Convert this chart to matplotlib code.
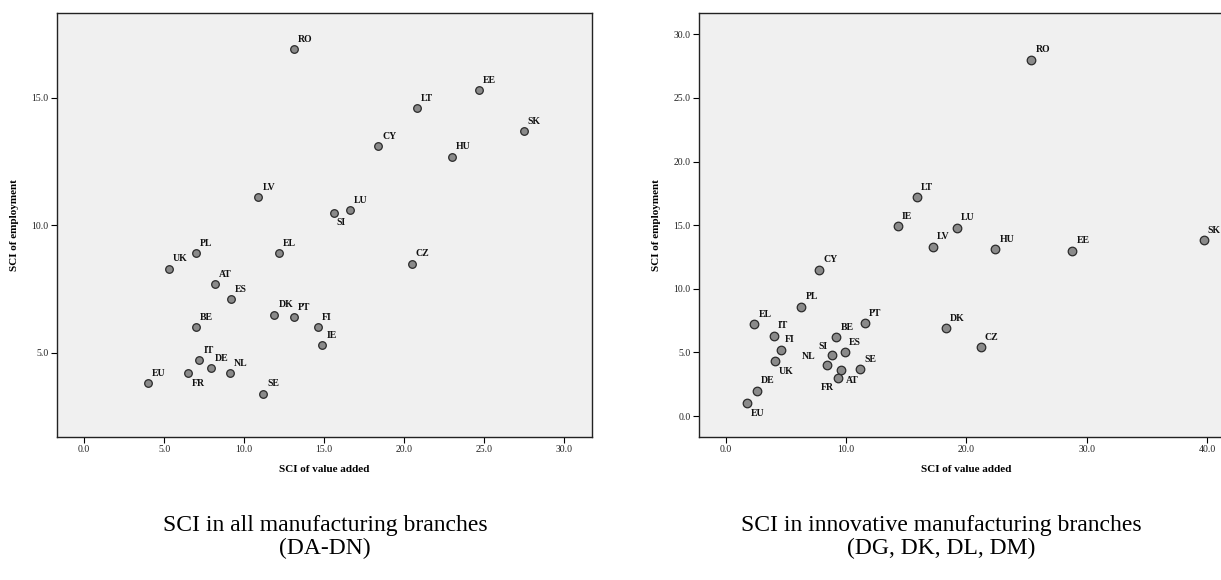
import matplotlib
matplotlib.use("Agg")
from matplotlib import pyplot as plt
from matplotlib.ticker import FormatStrFormatter

plt.rcParams['font.family'] = ['Liberation Serif', 'DejaVu Serif']

# all manufacturing branches (DA-DN)
tari_a = ['RO', 'EE', 'LT', 'SK', 'CY', 'HU', 'LV', 'LU', 'SI', 'CZ', 'PL', 'EL', 'UK',
          'AT', 'ES', 'DK', 'PT', 'BE', 'FI', 'IE', 'IT', 'DE', 'NL', 'FR', 'EU', 'SE']
va_a = [13.1, 24.7, 20.8, 27.5, 18.4, 23.0, 10.9, 16.6, 15.6, 20.5, 7.0, 12.2, 5.3,
        8.2, 9.2, 11.9, 13.1, 7.0, 14.6, 14.9, 7.2, 7.9, 9.1, 6.5, 4.0, 11.2]
emp_a = [16.9, 15.3, 14.6, 13.7, 13.1, 12.7, 11.1, 10.6, 10.5, 8.5, 8.9, 8.9, 8.3,
         7.7, 7.1, 6.5, 6.4, 6.0, 6.0, 5.3, 4.7, 4.4, 4.2, 4.2, 3.8, 3.4]

# innovative manufacturing branches (DG, DK, DL, DM)
tari_b = ['RO', 'LT', 'IE', 'LU', 'LV', 'HU', 'EE', 'SK', 'CY', 'PL', 'EL', 'PT', 'IT',
          'BE', 'DK', 'CZ', 'FI', 'ES', 'SI', 'UK', 'NL', 'SE', 'AT', 'FR', 'DE', 'EU']
va_b = [25.4, 15.9, 14.3, 19.2, 17.2, 22.4, 28.8, 39.7, 7.8, 6.3, 2.4, 11.6, 4.0,
        9.2, 18.3, 21.2, 4.6, 9.9, 8.8, 4.1, 8.4, 11.2, 9.6, 9.3, 2.6, 1.8]
emp_b = [28.0, 17.2, 14.9, 14.8, 13.3, 13.1, 13.0, 13.8, 11.5, 8.6, 7.2, 7.3, 6.3,
         6.2, 6.9, 5.4, 5.2, 5.0, 4.8, 4.3, 4.0, 3.7, 3.6, 3.0, 2.0, 1.0]

# label placement: (dx, dy in pixels, ha); default upper right
implicit = (4, 10, 'left')
poz_a = {'SI': (3, -10, 'left'), 'FR': (4, -10, 'left')}
poz_b = {'SI': (-4, 9, 'right'), 'NL': (-11, 9, 'right'), 'UK': (4, -10, 'left'),
         'AT': (5, -10, 'left'), 'FR': (-4, -10, 'right'), 'EU': (4, -10, 'left')}


def scatter(ax, x, y, etichete, pozitii, xlim, ylim, xt, yt, s):
    ax.set_facecolor('#f0f0f0')
    ax.scatter(x, y, s=s, c='#8a8a8a', edgecolors='#2a2a2a', linewidths=0.9, zorder=3)
    for xi, yi, et in zip(x, y, etichete):
        dx, dy, ha = pozitii.get(et, implicit)
        ax.annotate(et, (xi, yi), xytext=(dx, dy), textcoords='offset pixels',
                    ha=ha, va='center', fontsize=7, fontweight='bold', color='#111111')
    ax.set_xlim(xlim)
    ax.set_ylim(ylim)
    ax.set_xticks(xt)
    ax.set_yticks(yt)
    ax.xaxis.set_major_formatter(FormatStrFormatter('%.1f'))
    ax.yaxis.set_major_formatter(FormatStrFormatter('%.1f'))
    ax.tick_params(direction='out', length=4, width=0.8, labelsize=7, color='black',
                   labelcolor='#222222', pad=2)
    for sp in ax.spines.values():
        sp.set_linewidth(1.0)
        sp.set_color('#222222')
    ax.set_xlabel('SCI of value added', fontsize=8, fontweight='bold', labelpad=8)
    ax.set_ylabel('SCI of employment', fontsize=8, fontweight='bold', labelpad=9)


fig = plt.figure(figsize=(12.21, 5.8), dpi=100)
ax1 = fig.add_axes([0.0467, 0.2466, 0.438, 0.731])
ax2 = fig.add_axes([0.5725, 0.2466, 0.438, 0.731])

scatter(ax1, va_a, emp_a, tari_a, poz_a, (-1.7, 31.75), (1.7, 18.33),
        [0, 5, 10, 15, 20, 25, 30], [5, 10, 15], 30)
scatter(ax2, va_b, emp_b, tari_b, poz_b, (-2.2, 42.2), (-1.64, 31.67),
        [0, 10, 20, 30, 40], [0, 5, 10, 15, 20, 25, 30], 38)

fig.text(325 / 1221, 1 - 537 / 580, 'SCI in all manufacturing branches\n(DA-DN)',
         ha='center', va='center', fontsize=17, linespacing=1.08)
fig.text(941 / 1221, 1 - 537 / 580, 'SCI in innovative manufacturing branches\n(DG, DK, DL, DM)',
         ha='center', va='center', fontsize=17, linespacing=1.08)

fig.savefig('out.png', dpi=100)
